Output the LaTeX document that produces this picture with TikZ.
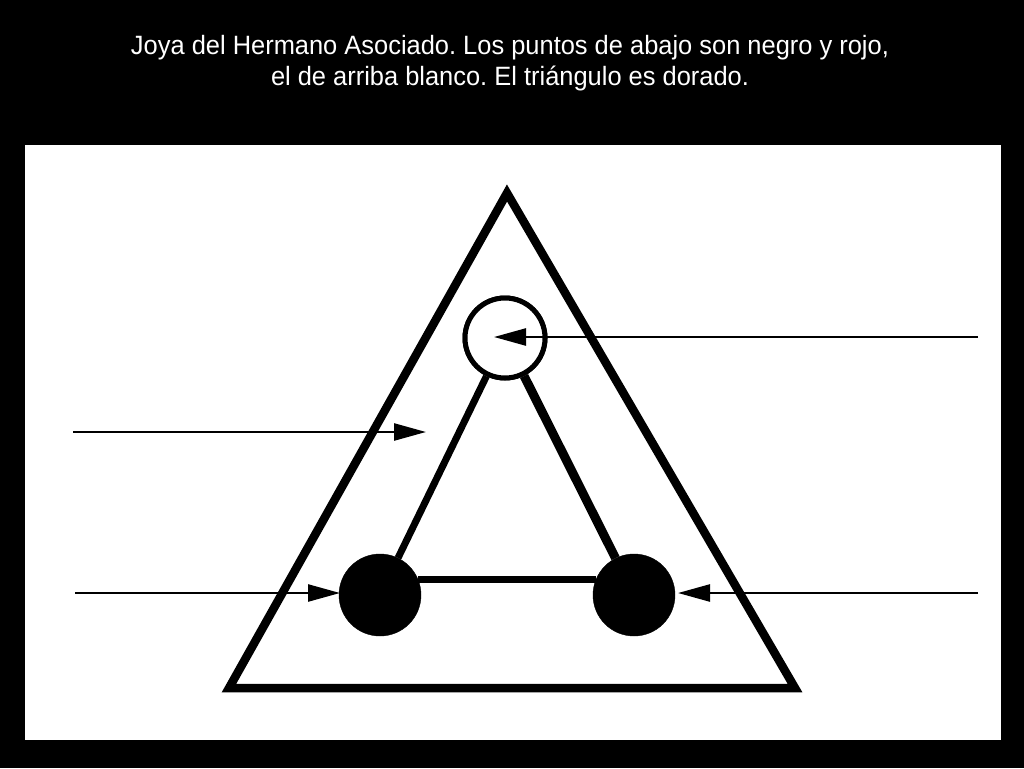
\documentclass[tikz,border=0pt]{standalone}
\usepackage{fontspec}
\setmainfont{Liberation Sans}[FakeStretch=0.96]
\usetikzlibrary{arrows.meta}
\begin{document}
\frenchspacing
\begin{tikzpicture}[x=1pt,y=-1pt,
  title/.style={text=white,font=\fontsize{26.5}{31}\selectfont,align=center,inner sep=0pt},
  dot/.style={circle,fill=black,draw=black,inner sep=0pt,minimum size=82pt},
  hollow/.style={circle,fill=white,draw=black,line width=5pt,inner sep=0pt,minimum size=80pt},
  bar/.style={line width=7pt},
  pointer/.style={line width=2.5pt,-{Triangle[length=32pt,width=17pt]}}]
\fill[black] (0,0) rectangle (1024,768);
\useasboundingbox (0,0) rectangle (1024,768);
\fill[white] (25,145) rectangle (1001,740);
\node[title] (t) at (510,63) {Joya del Hermano Asociado. Los puntos de abajo son negro y rojo,\\el de arriba blanco. El triángulo es dorado.};
\draw[line width=8.5pt,line join=miter] (507,193) -- (229,688) -- (795,688) -- cycle;
\node[dot] (L) at (380,595) {};
\node[dot] (R) at (634,595) {};
\node[hollow] (T) at (505,338) {};
\draw[bar] (T) -- (L);
\draw[bar,line width=9pt] (T) -- (R);
\draw[bar] (L.22) -- (R.158);
\node[hollow] at (T) {};
\coordinate (a1s) at (978,337);
\coordinate (a1e) at (494,337);
\coordinate (a2s) at (73,432);
\coordinate (a2e) at (426,432);
\coordinate (a3s) at (75,593);
\coordinate (a3e) at (340,593);
\coordinate (a4s) at (978,593);
\coordinate (a4e) at (678,593);
\draw[pointer] (a1s) -- (a1e);
\draw[pointer] (a2s) -- (a2e);
\draw[pointer] (a3s) -- (a3e);
\draw[pointer] (a4s) -- (a4e);
\end{tikzpicture}
\end{document}
